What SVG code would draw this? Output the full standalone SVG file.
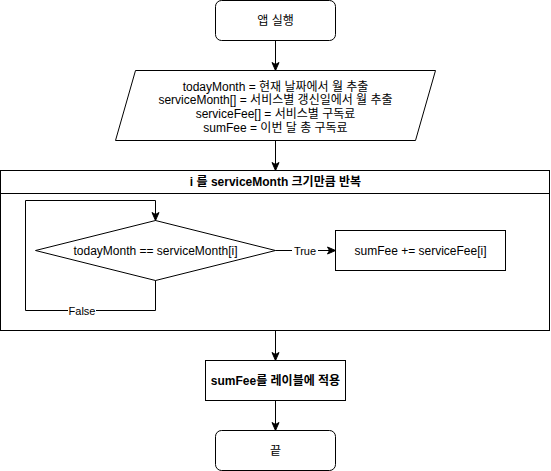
<svg xmlns="http://www.w3.org/2000/svg" width="551" height="471" viewBox="0 0 551 471">
<style>
.shape{fill:#fff;stroke:#000;stroke-width:1}
.t{font-family:"Liberation Sans","Noto Sans CJK KR",sans-serif;font-size:12px;fill:#000;text-anchor:middle}
.b{font-weight:bold}
.lbl{font-family:"Liberation Sans","Noto Sans CJK KR",sans-serif;font-size:11px;fill:#000;text-anchor:middle}
.edge{fill:none;stroke:#000;stroke-width:1}
.lblbg{fill:#fff;stroke:none}
</style>
<defs>
<marker id="arr" markerUnits="userSpaceOnUse" markerWidth="10" markerHeight="10" viewBox="0 0 10 10" refX="9" refY="5" orient="auto">
<path d="M1,1.5 L9,5 L1,8.5 L3,5 Z" fill="#000" stroke="#000" stroke-width="1"/>
</marker>
</defs>
<rect width="551" height="471" fill="#fff"/>
<g id="start">
<rect class="shape" x="215.5" y="0.5" width="120" height="40" rx="6"/>
<text class="t" x="275.5" y="24.5">앱 실행</text>
</g>
<g id="input">
<polygon class="shape" points="135.5,70.5 435.5,70.5 415.5,140.5 115.5,140.5"/>
<text class="t" x="275.5" y="90.5">todayMonth = 현재 날짜에서 월 추출</text>
<text class="t" x="275.5" y="104.3">serviceMonth[] = 서비스별 갱신일에서 월 추출</text>
<text class="t" x="275.5" y="118.1">serviceFee[] = 서비스별 구독료</text>
<text class="t" x="275.5" y="131.9">sumFee = 이번 달 총 구독료</text>
</g>
<g id="loop">
<rect class="shape" x="0.5" y="170.5" width="549" height="160"/>
<line class="edge" x1="0.5" y1="193.5" x2="549.5" y2="193.5"/>
<text class="t b" x="275.5" y="186">i 를 serviceMonth 크기만큼 반복</text>
</g>
<g id="decision">
<polygon class="shape" points="155.5,220.5 275.5,250.5 155.5,280.5 35.5,250.5"/>
<text class="t" x="155.5" y="254.5">todayMonth == serviceMonth[i]</text>
</g>
<g id="add">
<rect class="shape" x="335.5" y="230.5" width="170" height="40"/>
<text class="t" x="420.5" y="254.5">sumFee += serviceFee[i]</text>
</g>
<g id="apply">
<rect class="shape" x="205.5" y="360.5" width="140" height="40"/>
<text class="t b" x="275.5" y="384.5">sumFee를 레이블에 적용</text>
</g>
<g id="end">
<rect class="shape" x="215.5" y="430.5" width="120" height="40" rx="6"/>
<text class="t" x="275.5" y="454.5">끝</text>
</g>
<g id="connectors">
<path class="edge" d="M275.5,40.5 V70.5" marker-end="url(#arr)"/>
<path class="edge" d="M275.5,140.5 V170.5" marker-end="url(#arr)"/>
<path class="edge" d="M155.5,280.5 V310.5 H25.5 V200.5 H155.5 V220.5" marker-end="url(#arr)"/>
<path class="edge" d="M275.5,250.5 H335.5" marker-end="url(#arr)"/>
<path class="edge" d="M275.5,330.5 V360.5" marker-end="url(#arr)"/>
<path class="edge" d="M275.5,400.5 V430.5" marker-end="url(#arr)"/>
<rect class="lblbg" x="68" y="303" width="28" height="15"/>
<text class="lbl" x="82" y="314.5">False</text>
<rect class="lblbg" x="292" y="243" width="26" height="15"/>
<text class="lbl" x="305" y="254.5">True</text>
</g>
</svg>
